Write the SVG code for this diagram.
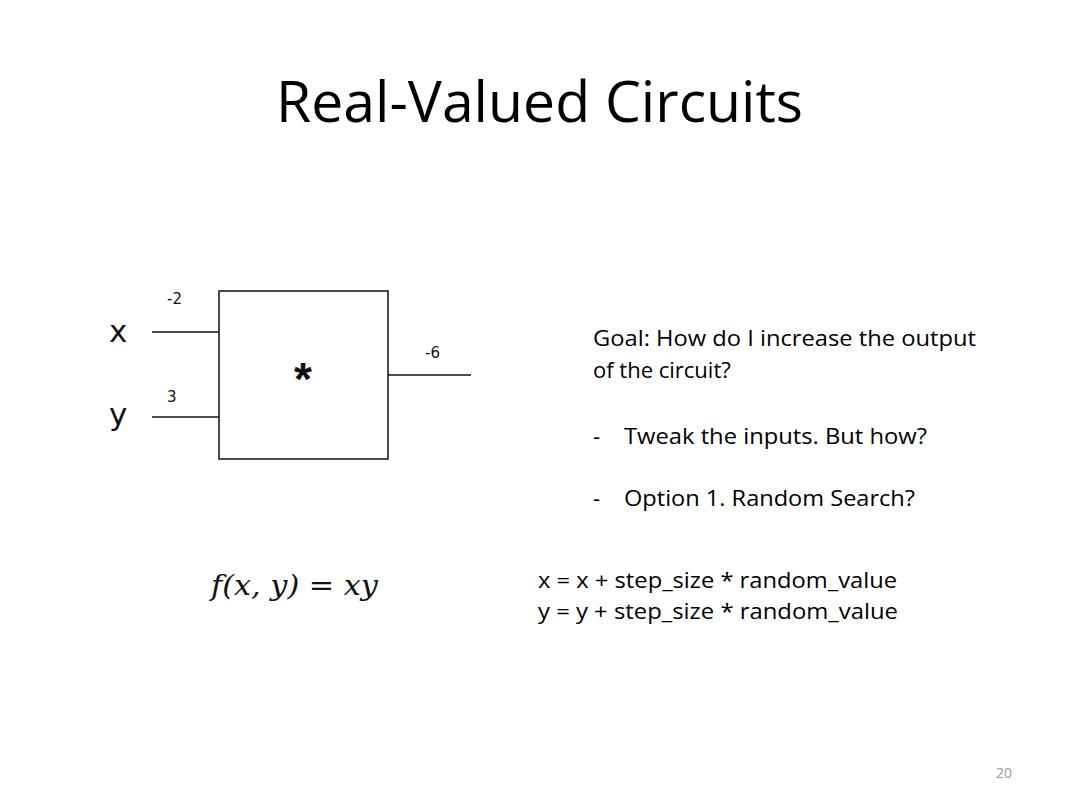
<svg xmlns="http://www.w3.org/2000/svg" width="1080" height="810" viewBox="0 0 1080 810">
<style>
.cal{font-family:"Open Sans","Liberation Sans",sans-serif;fill:#000}
.lbl{font-family:"DejaVu Sans","Liberation Sans",sans-serif;fill:#111}
.wire{stroke:#111;stroke-width:1.5;fill:none}
.math{font-family:"DejaVu Serif","Liberation Serif",serif;font-style:italic;fill:#111}
</style>
<rect width="1080" height="810" fill="#fff"/>
<g id="title"><text class="cal" x="276" y="122" font-size="57" textLength="527" lengthAdjust="spacingAndGlyphs">Real-Valued Circuits</text></g>
<g id="connectors">
<line class="wire" x1="152" y1="332" x2="219" y2="332"/>
<line class="wire" x1="152" y1="417" x2="219" y2="417"/>
<line class="wire" x1="388" y1="375" x2="471" y2="375"/>
</g>
<g id="gate">
<rect class="wire" x="219" y="291" width="169" height="168"/>
<text x="303" y="395" font-family="Liberation Sans,sans-serif" font-weight="bold" font-size="46" text-anchor="middle" fill="#111">*</text>
</g>
<g id="input-x"><text class="lbl" x="109" y="342" font-size="31">x</text><text class="lbl" x="167" y="304" font-size="15">-2</text></g>
<g id="input-y"><text class="lbl" x="109" y="425" font-size="31">y</text><text class="lbl" x="167" y="402" font-size="15">3</text></g>
<g id="output"><text class="lbl" x="425" y="358" font-size="15">-6</text></g>
<g id="goal">
<text class="cal" x="593" y="346" font-size="22" textLength="383" lengthAdjust="spacingAndGlyphs">Goal: How do I increase the output</text>
<text class="cal" x="593" y="378" font-size="22">of the circuit?</text>
<text class="cal" x="593" y="444" font-size="22">-</text>
<text class="cal" x="624" y="444" font-size="22" textLength="303" lengthAdjust="spacingAndGlyphs">Tweak the inputs. But how?</text>
<text class="cal" x="593" y="506" font-size="22">-</text>
<text class="cal" x="624" y="506" font-size="22" textLength="291" lengthAdjust="spacingAndGlyphs">Option 1. Random Search?</text>
</g>
<g id="formula"><text class="math" x="211" y="595" font-size="27" textLength="167" lengthAdjust="spacingAndGlyphs">f(x, y) <tspan font-style="normal">=</tspan> xy</text></g>
<g id="update">
<text class="cal" x="538" y="588" font-size="22" textLength="359" lengthAdjust="spacingAndGlyphs">x = x + step_size * random_value</text>
<text class="cal" x="538" y="619" font-size="22" textLength="360" lengthAdjust="spacingAndGlyphs">y = y + step_size * random_value</text>
</g>
<g id="page"><text x="996" y="778" font-family="Open Sans,sans-serif" font-size="14" fill="#999">20</text></g>
</svg>
